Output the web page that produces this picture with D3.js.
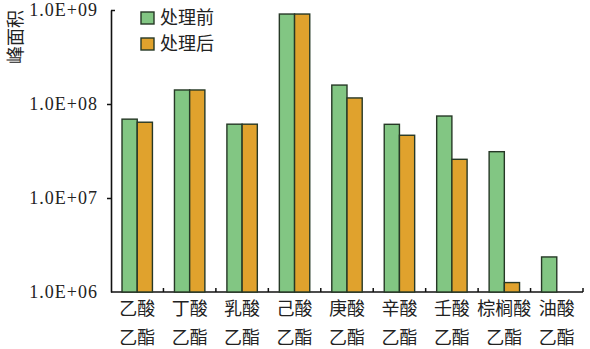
<!DOCTYPE html>
<html>
<head>
<meta charset="utf-8">
<script src="https://cdn.jsdelivr.net/npm/d3@7"></script>
<style>
    body { margin: 0; background: #fff; }
    svg { display: block; }
    .axis text { font-family: "Liberation Serif", "DejaVu Serif", serif; }
</style>
</head>
<body>
<svg id="chart"></svg>
<script>
// chart values
const categories = ['乙酸乙酯', '丁酸乙酯', '乳酸乙酯', '己酸乙酯', '庚酸乙酯', '辛酸乙酯', '壬酸乙酯', '棕榈酸乙酯', '油酸乙酯'];
const labelTop = ['乙酸', '丁酸', '乳酸', '己酸', '庚酸', '辛酸', '壬酸', '棕榈酸', '油酸'];
const labelBottom = ['乙酯', '乙酯', '乙酯', '乙酯', '乙酯', '乙酯', '乙酯', '乙酯', '乙酯'];
const seriesNames = ['处理前', '处理后'];
const before = [6.9e7, 1.41e8, 6.1e7, 9.06e8, 1.59e8, 6.08e7, 7.45e7, 3.11e7, 2.36e6];
const after = [6.4e7, 1.41e8, 6.1e7, 9.06e8, 1.16e8, 4.65e7, 2.58e7, 1.26e6, null];
const tickValues = [1e6, 1e7, 1e8, 1e9];
const tickLabels = ['1.0E+06', '1.0E+07', '1.0E+08', '1.0E+09'];
const yTitle = '峰面积';

const colors = ['#82c683', '#e0a22d'];
const stroke = '#263826';

const width = 590, height = 349;
const margin = {top: 10, right: 7, bottom: 57, left: 111};

const svg = d3.select('#chart')
    .attr('width', width)
    .attr('height', height);

const chart = svg.append('g');

const xScale = d3.scaleBand()
    .domain(categories)
    .range([margin.left, width - margin.right]);

const yScale = d3.scaleLog()
    .domain([1e6, 1e9])
    .range([height - margin.bottom, margin.top]);

// y axis
const yAxis = d3.axisLeft(yScale)
    .tickValues(tickValues)
    .tickFormat((d, i) => tickLabels[i])
    .tickSize(4)
    .tickSizeOuter(0)
    .tickPadding(9);

const yAxisGroup = chart.append('g')
    .attr('class', 'axis y-axis')
    .attr('transform', `translate(${margin.left},0)`)
    .call(yAxis);

yAxisGroup.select('.domain').attr('stroke', '#111').attr('stroke-width', 1.6);
yAxisGroup.selectAll('.tick line').attr('stroke', '#111').attr('stroke-width', 1.5)
    .attr('x2', d => d == 1e9 ? 4 : (d == 1e6 ? 0 : -4));
yAxisGroup.selectAll('.tick text')
    .attr('font-size', 18)
    .attr('letter-spacing', 1)
    .attr('fill', '#222');

// x axis: baseline + small upward ticks between the groups
const baseY = yScale(1e6);
chart.append('line')
    .attr('x1', margin.left).attr('x2', xScale.range()[1])
    .attr('y1', baseY).attr('y2', baseY)
    .attr('stroke', '#111').attr('stroke-width', 1.6);

chart.selectAll('.xtick')
    .data(categories)
    .join('line')
    .attr('class', 'xtick')
    .attr('x1', d => xScale(d) + xScale.bandwidth())
    .attr('x2', d => xScale(d) + xScale.bandwidth())
    .attr('y1', baseY)
    .attr('y2', baseY - 4)
    .attr('stroke', '#111').attr('stroke-width', 1.5);

// bars
const barW = xScale.bandwidth() * 0.29;
[before, after].forEach((vals, s) => {
    const data = categories.map((c, i) => ({cat: c, value: vals[i]})).filter(d => d.value != null);
    chart.selectAll('.bar-' + s)
        .data(data)
        .join('rect')
        .attr('class', 'bar-' + s)
        .attr('x', d => xScale(d.cat) + xScale.bandwidth() / 2 - barW + s * barW)
        .attr('width', barW)
        .attr('y', d => yScale(d.value))
        .attr('height', d => baseY - yScale(d.value))
        .attr('fill', colors[s])
        .attr('stroke', stroke)
        .attr('stroke-width', 1.4);
});

// category labels, two lines each
const labels = chart.selectAll('.xlabel')
    .data(categories)
    .join('text')
    .attr('class', 'xlabel')
    .attr('text-anchor', 'middle')
    .attr('font-family', '"Noto Sans CJK SC", sans-serif')
    .attr('font-size', 18)
    .attr('fill', '#222');

labels.append('tspan')
    .attr('x', d => xScale(d) + xScale.bandwidth() / 2)
    .attr('y', 315)
    .text((d, i) => labelTop[i]);

labels.append('tspan')
    .attr('x', d => xScale(d) + xScale.bandwidth() / 2)
    .attr('y', 344)
    .text((d, i) => labelBottom[i]);

// y title
svg.append('text')
    .attr('transform', 'translate(22,37) rotate(-90)')
    .attr('text-anchor', 'middle')
    .attr('font-family', '"Noto Sans CJK SC", sans-serif')
    .attr('font-size', 18)
    .attr('fill', '#222')
    .text(yTitle);

// legend
const legend = svg.append('g')
    .attr('transform', 'translate(141,12)');

seriesNames.forEach((name, i) => {
    legend.append('rect')
        .attr('x', 0).attr('y', i * 26)
        .attr('width', 13).attr('height', 12)
        .attr('fill', colors[i])
        .attr('stroke', stroke)
        .attr('stroke-width', 1.4);
    legend.append('text')
        .attr('x', 19).attr('y', i * 26 + 6)
        .attr('dy', '0.35em')
        .attr('font-family', '"Noto Sans CJK SC", sans-serif')
        .attr('font-size', 18)
        .attr('fill', '#222')
        .text(name);
});
</script>
</body>
</html>
